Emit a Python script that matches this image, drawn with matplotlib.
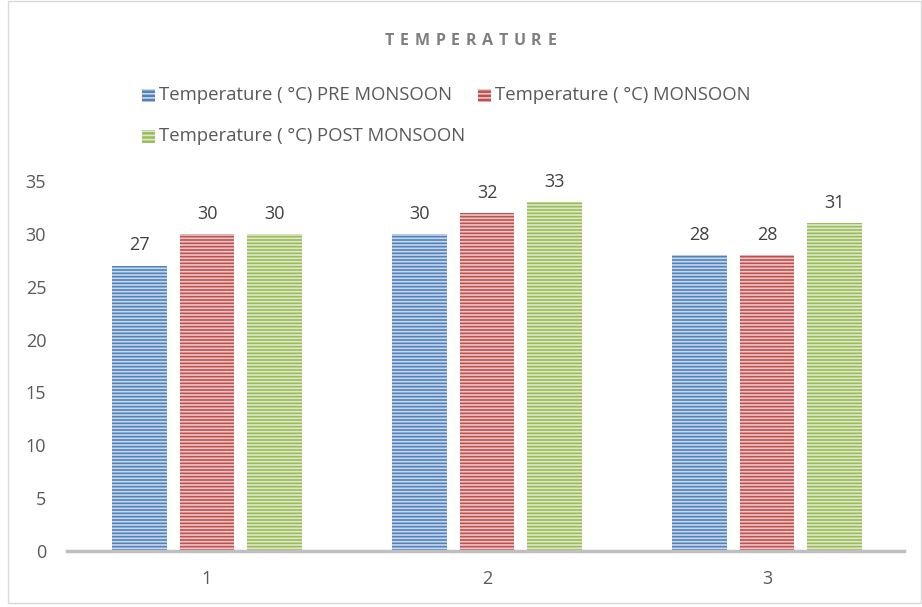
import matplotlib
matplotlib.use("Agg")
import matplotlib.pyplot as plt
import numpy as np
from matplotlib.patches import Rectangle

plt.rcParams['hatch.linewidth'] = 1.2
plt.rcParams['font.family'] = ['Open Sans', 'DejaVu Sans']

categories = ["1", "2", "3"]
series_names = ["Temperature ( °C) PRE MONSOON",
                "Temperature ( °C) MONSOON",
                "Temperature ( °C) POST MONSOON"]
pre_monsoon = [27, 30, 28]
monsoon = [30, 32, 28]
post_monsoon = [30, 33, 31]
colors = ["#4f81bd", "#c0504d", "#9bbb59"]
stripe_colors = ["#c9d8ec", "#ecc9c8", "#dde9c9"]
yticks = [0, 5, 10, 15, 20, 25, 30, 35]
title = "TEMPERATURE"

W, H = 922, 607
fig = plt.figure(figsize=(W / 100, H / 100), dpi=100)

def fx(px):
    return px / W

def fy(py):
    return 1 - py / H

ax = fig.add_axes([fx(67), fy(551), fx(907) - fx(67), fy(181) - fy(551)])

x = np.arange(len(categories))
width = 0.196
step = 0.24
gray = "#595959"
for i, (vals, c, sc) in enumerate(zip([pre_monsoon, monsoon, post_monsoon], colors, stripe_colors)):
    bars = ax.bar(x + (i - 1) * step, vals, width, color=c, edgecolor=sc,
                  hatch='-----', linewidth=0, zorder=2)
    for b, v in zip(bars, vals):
        ax.text(b.get_x() + b.get_width() / 2, v + 1.05, str(v), ha='center', va='bottom',
                fontsize=13, color="#404040")

ax.set_xlim(-0.5, 2.5)
ax.set_ylim(0, 35)
ax.set_yticks(yticks)
ax.set_xticks(x)
ax.set_xticklabels(categories)
ax.tick_params(axis='both', length=0, labelsize=13, colors=gray)
ax.tick_params(axis='x', pad=14)
ax.tick_params(axis='y', pad=15)
for s in ['top', 'right', 'left']:
    ax.spines[s].set_visible(False)
ax.spines['bottom'].set_color("#bfbfbf")
ax.spines['bottom'].set_linewidth(2.5)
ax.spines['bottom'].set_bounds(-0.5, 2.49)
ax.set_facecolor('none')

# title with wide letter spacing: measure glyphs, then spread evenly
renderer = fig.canvas.get_renderer()
letters = [fig.text(0, fy(41), ch, ha='left', va='center', fontsize=11.5,
                    fontweight='bold', color="#7f7f7f") for ch in title]
widths = [t.get_window_extent(renderer).width for t in letters]
left, right = 385, 556
gap = (right - left - sum(widths)) / (len(title) - 1)
pos = left
for t, w in zip(letters, widths):
    t.set_x(fx(pos))
    pos += w + gap

# legend (manual)
leg_pos = [(142, 95), (478, 95), (142, 136)]
for (lx, ly), name, c, sc in zip(leg_pos, series_names, colors, stripe_colors):
    r = Rectangle((fx(lx), fy(ly + 6.5)), fx(13), fy(0) - fy(13),
                  transform=fig.transFigure, facecolor=c, edgecolor=sc, hatch='----',
                  linewidth=0)
    fig.add_artist(r)
    fig.text(fx(lx + 17), fy(ly), name, ha='left', va='center', fontsize=13.3, color=gray)

# border
fig.add_artist(Rectangle((fx(8), fy(603)), fx(913), fy(0) - fy(603) - 0.001,
                         transform=fig.transFigure, fill=False, edgecolor="#d9d9d9", linewidth=1))

fig.savefig("out.png", dpi=100)
